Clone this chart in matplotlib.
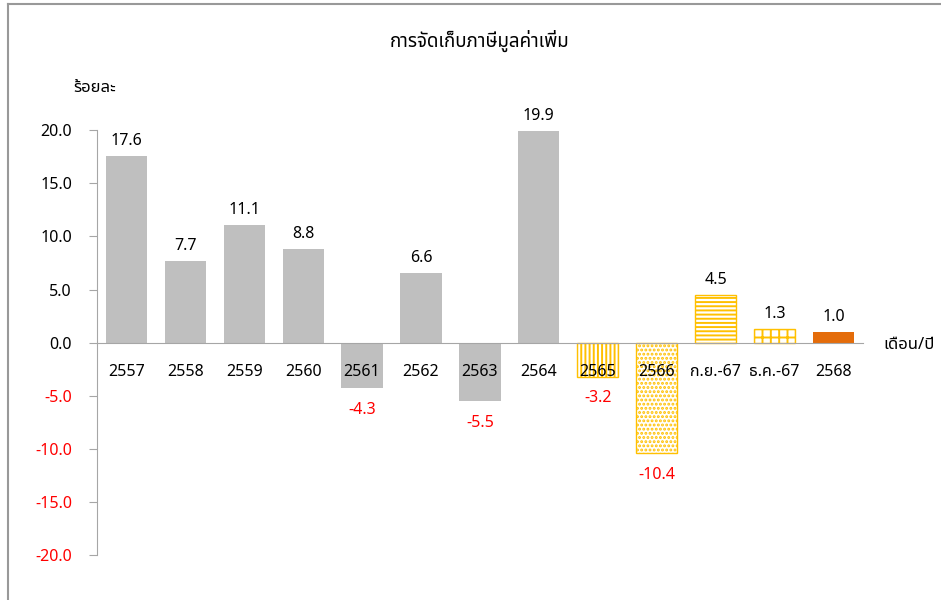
import matplotlib
matplotlib.use('Agg')
import matplotlib.pyplot as plt
from matplotlib import font_manager, ft2font
from matplotlib.lines import Line2D

# data
categories = ['2557', '2558', '2559', '2560', '2561', '2562', '2563', '2564',
              '2565', '2566', 'ก.ย.-67', 'ธ.ค.-67', '2568']
values = [17.6, 7.7, 11.1, 8.8, -4.3, 6.6, -5.5, 19.9, -3.2, -10.4, 4.5, 1.3, 1.0]
y_ticks = [-20, -15, -10, -5, 0, 5, 10, 15, 20]

GREY = '#BFBFBF'
YELLOW = '#FFC000'
ORANGE = '#E46C0A'
RED = '#FF0000'


def find_thai_font():
    """Return the name of an installed font that has Thai glyphs."""
    preferred = ['Tahoma', 'Leelawadee UI', 'Noto Sans Thai', 'Noto Sans Thai UI',
                 'Loma', 'Garuda', 'Sarabun', 'TH Sarabun New']
    found = []
    for f in font_manager.fontManager.ttflist:
        try:
            cmap = ft2font.FT2Font(f.fname).get_charmap()
        except Exception:
            continue
        if 0x0E01 in cmap and 0x0E40 in cmap:
            found.append(f.name)
    for name in preferred:
        if name in found:
            return name
    return found[0] if found else None


thai = find_thai_font()
families = ([thai] if thai else []) + ['DejaVu Sans']
plt.rcParams['font.family'] = families
plt.rcParams['hatch.linewidth'] = 1.4

fig = plt.figure(figsize=(9.41, 6), dpi=100)
ax = fig.add_axes([0.103, 0.075, 0.814, 0.708])

# bar styles, one per category
styles = [dict(color=GREY)] * 8 + [
    dict(facecolor='white', edgecolor=YELLOW, hatch='||||'),
    dict(facecolor='white', edgecolor=YELLOW, hatch='....'),
    dict(facecolor='white', edgecolor=YELLOW, hatch='----'),
    dict(facecolor='white', edgecolor=YELLOW, hatch='++'),
    dict(color=ORANGE),
]

x = list(range(len(categories)))
for xi, v, st in zip(x, values, styles):
    ax.bar(xi, v, width=0.7, linewidth=1.0, zorder=2, **st)

# value labels
for xi, v in zip(x, values):
    if v >= 0:
        ax.annotate(f'{v:.1f}', (xi, v), xytext=(0, 5), textcoords='offset points',
                    ha='center', va='bottom', fontsize=11.5, color='black')
    else:
        ax.annotate(f'{v:.1f}', (xi, v), xytext=(0, -10), textcoords='offset points',
                    ha='center', va='top', fontsize=11.5, color=RED)

# category labels just under the zero line
for xi, c in zip(x, categories):
    ax.annotate(c, (xi, 0), xytext=(0, -21), textcoords='offset points',
                ha='center', va='center', fontsize=11.5, zorder=3)

ax.set_xlim(-0.5, len(categories) - 0.5)
ax.set_ylim(-20, 20)
ax.set_yticks(y_ticks)
ax.set_yticklabels([f'{t:.1f}' for t in y_ticks], fontsize=11.5)
for lab, t in zip(ax.get_yticklabels(), y_ticks):
    if t < 0:
        lab.set_color(RED)
ax.tick_params(axis='y', direction='out', length=6, color='#A6A6A6', pad=12)
ax.set_xticks([])

for s in ['top', 'right']:
    ax.spines[s].set_visible(False)
ax.spines['left'].set_color('#A6A6A6')
ax.spines['bottom'].set_position(('data', 0))
ax.spines['bottom'].set_color('#A6A6A6')
ax.spines['bottom'].set_zorder(3)

fig.text(0.51, 0.932, 'การจัดเก็บภาษีมูลค่าเพิ่ม', ha='center', va='center', fontsize=13.5)
fig.text(0.101, 0.853, 'ร้อยละ', ha='center', va='center', fontsize=12)
fig.text(0.966, 0.425, 'เดือน/ปี', ha='center', va='center', fontsize=12)

# outer frame (top and left edges visible in the crop)
fig.add_artist(Line2D([0.0085, 1.0], [0.993, 0.993], color='#999999', lw=1.5))
fig.add_artist(Line2D([0.0085, 0.0085], [0.0, 0.993], color='#999999', lw=1.5))

fig.savefig('out.png', dpi=100, facecolor='white')
